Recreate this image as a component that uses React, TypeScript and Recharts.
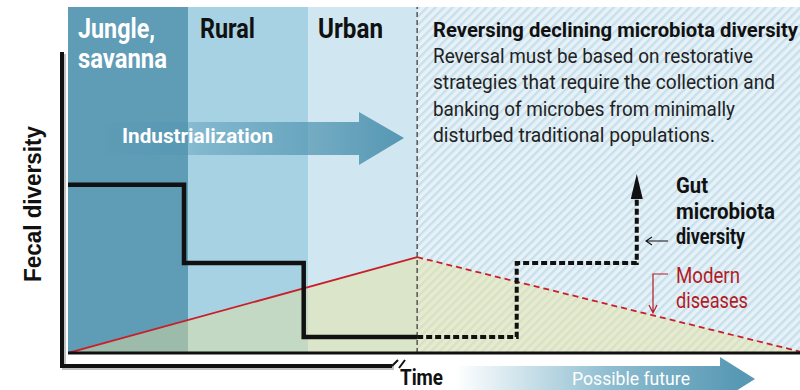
import React from "react";
import { Area, ComposedChart, Line, ReferenceArea, ReferenceLine, XAxis, YAxis } from "recharts";

// time runs 0..100 across the plot, diversity 0..100 up the plot
const eraNames = ["Jungle, savanna", "Rural", "Urban", "Possible future"];
const eraStart = [0, 16.4, 32.8, 47.7];
const eraEnd = [16.4, 32.8, 47.7, 100];
const eraFill = ["#5f9cb6", "#a6d2e3", "#d0e7f1", "url(#futureHatch)"];

const gutPastTime = [0, 15.85, 32.2, 47.7];
const gutPastValues = [48.6, 26, 4.6, 4.6];
const gutFutureTime = [47.7, 61.3, 77.7];
const gutFutureValues = [4.6, 26, 44.8];

const diseaseTime = [0, 47.7, 100];
const diseaseValues = [0, 27.7, 0.4];

const bodyLines = [
  "Reversal must be based on restorative",
  "strategies that require the collection and",
  "banking of microbes from minimally",
  "disturbed traditional populations.",
];
const bodyWidths = [320, 342, 302, 282];

const toPoints = (time: number[], values: number[]) => time.map((t, i) => ({ t, v: values[i] }));

const gutPast = toPoints(gutPastTime, gutPastValues);
const gutFuture = toPoints(gutFutureTime, gutFutureValues);
const diseaseAll = toPoints(diseaseTime, diseaseValues);
const diseasePast = diseaseAll.slice(0, 2);
const diseaseFuture = diseaseAll.slice(1);

const cond = "Roboto, 'Noto Sans', sans-serif";

function ArrowTip(props: any) {
  const { cx, cy, index } = props;
  if (index !== gutFuture.length - 1 || cx == null) return <g key={`tip-${index}`} />;
  return <path key="tip" d={`M${cx - 6},${cy + 1} L${cx + 6},${cy + 1} L${cx},${cy - 24} Z`} fill="#111" />;
}

// labels and arrows drawn on top of the chart
function Annotations() {
  return (
    <svg width={800} height={390} style={{ position: "absolute", left: 0, top: 0, pointerEvents: "none" }}>
      <defs>
        <linearGradient id="industryGrad" x1="105" x2="404" y1="0" y2="0" gradientUnits="userSpaceOnUse">
          <stop offset="0" stopColor="#4f93b0" stopOpacity={0.05} />
          <stop offset="0.35" stopColor="#4f93b0" stopOpacity={0.45} />
          <stop offset="1" stopColor="#4f93b0" stopOpacity={0.95} />
        </linearGradient>
        <linearGradient id="futureGrad" x1="455" x2="740" y1="0" y2="0" gradientUnits="userSpaceOnUse">
          <stop offset="0" stopColor="#ffffff" />
          <stop offset="0.55" stopColor="#8dbdd0" />
          <stop offset="1" stopColor="#5798b4" />
        </linearGradient>
      </defs>

      {/* outer axis frame */}
      <path d="M64,54 V368 H394" stroke="#999" strokeOpacity={0.6} strokeWidth={4} fill="none" />
      <path d="M62,52 V366 H392" stroke="#111" strokeWidth={4} fill="none" />
      <path d="M392,366 L398,360 M399,368 L405,360" stroke="#111" strokeWidth={2} fill="none" />

      {/* industrialization arrow */}
      <path d="M105,122 H359 V112 L404,138 L359,165 V155 H105 Z" fill="url(#industryGrad)" />
      <text x={122} y={143} fill="#fff" fontFamily={cond} fontWeight={700} fontSize={21} textLength={151} lengthAdjust="spacingAndGlyphs">Industrialization</text>

      {/* era labels */}
      <text x={78} y={38} fill="#fff" fontFamily={cond} fontWeight={700} fontSize={28} textLength={77} lengthAdjust="spacingAndGlyphs">Jungle,</text>
      <text x={78} y={68} fill="#fff" fontFamily={cond} fontWeight={700} fontSize={28} textLength={89} lengthAdjust="spacingAndGlyphs">savanna</text>
      <text x={200} y={38} fill="#111" fontFamily={cond} fontWeight={700} fontSize={28} textLength={55} lengthAdjust="spacingAndGlyphs">Rural</text>
      <text x={318} y={38} fill="#111" fontFamily={cond} fontWeight={700} fontSize={28} textLength={65} lengthAdjust="spacingAndGlyphs">Urban</text>

      {/* future note */}
      <text x={433} y={37} fill="#111" fontFamily={cond} fontWeight={700} fontSize={20} textLength={365} lengthAdjust="spacingAndGlyphs">Reversing declining microbiota diversity</text>
      {bodyLines.map((line, i) => (
        <text key={line} x={433} y={63 + i * 26.3} fill="#222" fontFamily={cond} fontSize={20} textLength={bodyWidths[i]} lengthAdjust="spacingAndGlyphs">{line}</text>
      ))}

      {/* gut microbiota label */}
      <text x={676} y={193} fill="#111" fontFamily={cond} fontWeight={700} fontSize={22.5} textLength={32} lengthAdjust="spacingAndGlyphs">Gut</text>
      <text x={676} y={219} fill="#111" fontFamily={cond} fontWeight={700} fontSize={22.5} textLength={99} lengthAdjust="spacingAndGlyphs">microbiota</text>
      <text x={676} y={244} fill="#111" fontFamily={cond} fontWeight={700} fontSize={22.5} textLength={69} lengthAdjust="spacingAndGlyphs">diversity</text>
      <path d="M668,241 H646 M652,237 L646,241 L652,245" stroke="#111" strokeWidth={1.1} fill="none" />

      {/* modern diseases label */}
      <text x={676} y={283} fill="#b31b24" fontFamily={cond} fontSize={22} textLength={64} lengthAdjust="spacingAndGlyphs">Modern</text>
      <text x={676} y={308} fill="#b31b24" fontFamily={cond} fontSize={22} textLength={72} lengthAdjust="spacingAndGlyphs">diseases</text>
      <path d="M668,274 H653 V313 M649,305 L653,313 L657,305" stroke="#b31b24" strokeWidth={1.2} fill="none" />

      {/* axis titles */}
      <text transform="translate(41,282) rotate(-90)" fill="#111" fontFamily="'Liberation Sans', Arial, sans-serif" fontWeight={700} fontSize={23} textLength={156} lengthAdjust="spacingAndGlyphs">Fecal diversity</text>
      <text x={400} y={385} fill="#111" fontFamily={cond} fontWeight={700} fontSize={22} textLength={43} lengthAdjust="spacingAndGlyphs">Time</text>

      {/* possible future arrow */}
      <path d="M455,366 H720 V357 L755,379 L720,401 V392 H455 Z" fill="url(#futureGrad)" />
      <text x={572} y={385} fill="#fff" fontFamily={cond} fontSize={19} textLength={118} lengthAdjust="spacingAndGlyphs">Possible future</text>
    </svg>
  );
}

export default function App() {
  return (
    <div style={{ position: "absolute", left: 0, top: 0, width: 800, height: 390, overflow: "hidden", background: "#fff" }}>
      <ComposedChart width={800} height={390} margin={{ top: 7, right: 0, bottom: 37, left: 68 }}>
        <defs>
          <pattern id="futureHatch" width="6" height="6" patternUnits="userSpaceOnUse" patternTransform="rotate(45)">
            <rect width="6" height="6" fill="#e7f2f8" />
            <rect width="2.4" height="6" fill="#c8e0eb" />
          </pattern>
        </defs>

        <XAxis type="number" dataKey="t" domain={[0, 100]} hide allowDataOverflow />
        <YAxis type="number" domain={[0, 100]} hide allowDataOverflow />

        {eraNames.map((name, i) => (
          <ReferenceArea key={name} x1={eraStart[i]} x2={eraEnd[i]} y1={0} y2={100} fill={eraFill[i]} fillOpacity={1} stroke="none" />
        ))}

        <Area data={diseaseAll} dataKey="v" type="linear" fill="#e6e39c" fillOpacity={0.45} stroke="none" isAnimationActive={false} />
        <Line data={diseasePast} dataKey="v" type="linear" stroke="#c8202a" strokeWidth={1.8} dot={false} isAnimationActive={false} />
        <Line data={diseaseFuture} dataKey="v" type="linear" stroke="#c8202a" strokeWidth={1.8} strokeDasharray="6 4" dot={false} isAnimationActive={false} />

        <ReferenceLine x={eraStart[3]} stroke="#555" strokeWidth={1.5} strokeDasharray="5 3" />
        <ReferenceLine y={0} stroke="#111" strokeWidth={3} />

        <Line data={gutPast} dataKey="v" type="stepAfter" stroke="#111" strokeWidth={4.5} dot={false} isAnimationActive={false} />
        <Line data={gutFuture} dataKey="v" type="stepAfter" stroke="#111" strokeWidth={4} strokeDasharray="6 3" dot={ArrowTip} isAnimationActive={false} />
      </ComposedChart>
      <Annotations />
    </div>
  );
}
